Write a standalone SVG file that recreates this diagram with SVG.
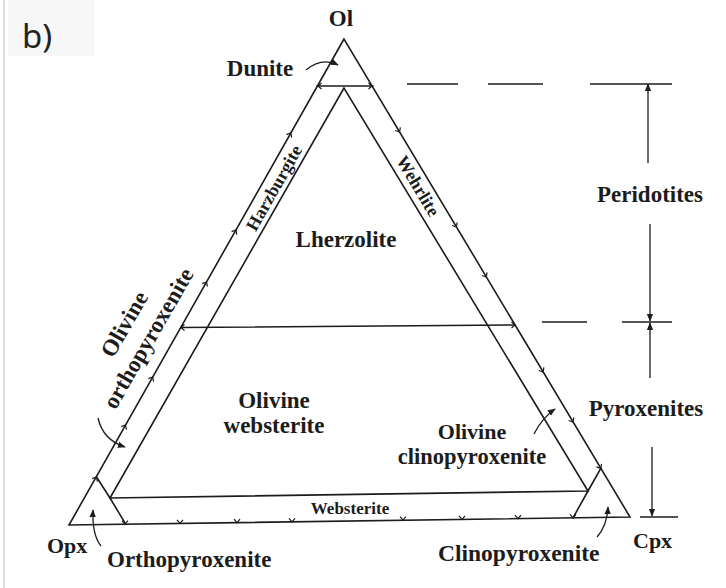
<svg xmlns="http://www.w3.org/2000/svg" width="726" height="588" viewBox="0 0 726 588">
<style>
.ln{fill:none;stroke:#1c1c1c;stroke-width:1.6;stroke-linecap:round;stroke-linejoin:miter}
.thin{fill:none;stroke:#1c1c1c;stroke-width:1.3}
.ck{fill:none;stroke:#1c1c1c;stroke-width:1.2}
.t{font-family:"Liberation Serif","Times New Roman",serif;font-weight:bold;fill:#1c1c1c}
.l{font-size:23px}
.s{font-size:17px}
</style>
<defs>
<marker id="ah" viewBox="0 0 10 10" refX="9" refY="5" markerWidth="8" markerHeight="8" orient="auto" markerUnits="userSpaceOnUse"><path d="M0,1 L10,5 L0,9 z" fill="#1c1c1c"/></marker>
<path id="chev" class="ck" d="M-3,-3.5 L0,0 L3,-3.5"/>
</defs>
<rect x="0" y="0" width="726" height="588" fill="#ffffff"/>
<rect x="8" y="0" width="86" height="56" fill="#f7f7f7"/>
<line x1="4" y1="0" x2="4" y2="588" stroke="#c8c8c8" stroke-width="1.2"/>
<g id="panel-label"><text x="22" y="48" font-family="'Noto Sans','Open Sans',sans-serif" font-size="33" fill="#222">b)</text></g>

<g id="ternary">
<path class="ln" d="M344,39 L69,525 L630,517 Z"/>
<path class="ln" d="M344,88 L110,498 L588,491 Z"/>
<line class="ln" x1="317" y1="86" x2="373" y2="86"/>
<line class="ln" x1="180.7" y1="327.5" x2="515" y2="325"/>
<polyline class="ln" points="96.5,477 110,498 125.7,524.2"/>
<polyline class="ln" points="600.8,468.4 588,491 573,517.8"/>
</g>

<g id="ticks">
<use href="#chev" transform="translate(290.8,133) rotate(-150.6)"/>
<use href="#chev" transform="translate(235.9,230) rotate(-150.6)"/>
<use href="#chev" transform="translate(206.5,282) rotate(-150.6)"/>
<use href="#chev" transform="translate(152.7,377) rotate(-150.6)"/>
<use href="#chev" transform="translate(125.5,425) rotate(-150.6)"/>
<use href="#chev" transform="translate(96.5,477) rotate(-150.6)"/>
<use href="#chev" transform="translate(399.6,132) rotate(-30.9)"/>
<use href="#chev" transform="translate(456.4,227) rotate(-30.9)"/>
<use href="#chev" transform="translate(486.3,277) rotate(-30.9)"/>
<use href="#chev" transform="translate(543.1,372) rotate(-30.9)"/>
<use href="#chev" transform="translate(573,422) rotate(-30.9)"/>
<use href="#chev" transform="translate(600.8,468.4) rotate(-30.9)"/>
<use href="#chev" transform="translate(125,524.2)"/>
<use href="#chev" transform="translate(180,523.4)"/>
<use href="#chev" transform="translate(237,522.6)"/>
<use href="#chev" transform="translate(292,521.8)"/>
<use href="#chev" transform="translate(403,520.2)"/>
<use href="#chev" transform="translate(462,519.4)"/>
<use href="#chev" transform="translate(518,518.6)"/>
<use href="#chev" transform="translate(573,517.8)"/>
<use href="#chev" transform="translate(181,327.5) rotate(90)"/>
<use href="#chev" transform="translate(515,325) rotate(-90)"/>
<use href="#chev" transform="translate(318,86) rotate(90)"/>
<use href="#chev" transform="translate(372,86) rotate(-90)"/>
</g>

<g id="connectors">
<path class="thin" d="M306,70 Q322,57 338,65" marker-end="url(#ah)"/>
<path class="thin" d="M98,418 Q103,440 125,447" marker-end="url(#ah)"/>
<path class="thin" d="M534,434 Q542,418 555,409" marker-end="url(#ah)"/>
<path class="thin" d="M101,546 Q92,535 93,510" marker-end="url(#ah)"/>
<path class="thin" d="M597,537 Q607,526 608,507" marker-end="url(#ah)"/>
<line class="thin" x1="648" y1="163" x2="648" y2="84" marker-end="url(#ah)"/>
<line class="thin" x1="650" y1="224" x2="650" y2="321" marker-end="url(#ah)"/>
<line class="thin" x1="650" y1="378" x2="650" y2="323" marker-end="url(#ah)"/>
<line class="thin" x1="652" y1="447" x2="652" y2="516" marker-end="url(#ah)"/>
<line class="thin" x1="407" y1="84" x2="458" y2="84"/>
<line class="thin" x1="488" y1="84" x2="543" y2="84"/>
<line class="thin" x1="590" y1="84" x2="672" y2="84"/>
<line class="thin" x1="542" y1="322" x2="587" y2="322"/>
<line class="thin" x1="622" y1="322" x2="672" y2="322"/>
<line class="thin" x1="640" y1="517" x2="678" y2="517"/>
</g>

<g id="n-ol"><text class="t l" x="341" y="26" text-anchor="middle">Ol</text></g>
<g id="n-dunite"><text class="t l" x="260" y="76" text-anchor="middle">Dunite</text></g>
<g id="n-harzburgite"><text class="t" font-size="18" transform="translate(274,188) rotate(-60.5)" y="6" text-anchor="middle">Harzburgite</text></g>
<g id="n-wehrlite"><text class="t" font-size="18" transform="translate(418,186) rotate(59.1)" y="6" text-anchor="middle">Wehrlite</text></g>
<g id="n-lherzolite"><text class="t l" x="346" y="247" text-anchor="middle">Lherzolite</text></g>
<g id="n-ol-opx"><text class="t l" transform="translate(124,324) rotate(-60)" y="8" text-anchor="middle">Olivine</text><text class="t l" transform="translate(148,338) rotate(-60)" y="8" text-anchor="middle">orthopyroxenite</text></g>
<g id="n-ol-websterite"><text class="t l" x="274" y="408" text-anchor="middle">Olivine</text><text class="t l" x="274" y="433" text-anchor="middle">websterite</text></g>
<g id="n-ol-cpx"><text class="t" font-size="22" x="472" y="439" text-anchor="middle">Olivine</text><text class="t" font-size="22.5" x="472" y="464" text-anchor="middle">clinopyroxenite</text></g>
<g id="n-peridotites"><text class="t l" x="650" y="202" text-anchor="middle">Peridotites</text></g>
<g id="n-pyroxenites"><text class="t l" x="646" y="416" text-anchor="middle">Pyroxenites</text></g>
<g id="n-websterite"><text class="t s" x="350" y="514" text-anchor="middle">Websterite</text></g>
<g id="n-opx"><text class="t" font-size="22" x="47" y="553">Opx</text></g>
<g id="n-orthopyroxenite"><text class="t l" x="107" y="567">Orthopyroxenite</text></g>
<g id="n-cpx"><text class="t" font-size="22" x="633" y="548">Cpx</text></g>
<g id="n-clinopyroxenite"><text class="t" font-size="23.5" x="438" y="561">Clinopyroxenite</text></g>
</svg>
